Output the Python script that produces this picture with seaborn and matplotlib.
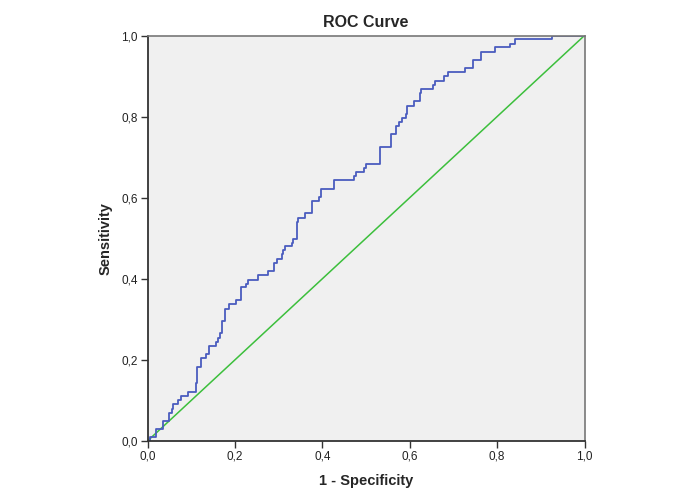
import matplotlib
matplotlib.use("Agg")
import matplotlib.pyplot as plt
import seaborn as sns
import pandas as pd
from matplotlib.ticker import FuncFormatter

# ROC step points: x where the curve steps up, new sensitivity level
fpr = [0.000, 0.006, 0.0195, 0.035, 0.050, 0.055, 0.059, 0.0705, 0.076, 0.093,
       0.111, 0.114, 0.122, 0.133, 0.141, 0.157, 0.162, 0.166, 0.170, 0.177,
       0.187, 0.2025, 0.213, 0.225, 0.231, 0.2535, 0.2765, 0.2895, 0.2956, 0.307,
       0.309, 0.3146, 0.330, 0.334, 0.341, 0.345, 0.360, 0.377, 0.393, 0.397,
       0.4275, 0.4725, 0.477, 0.495, 0.500, 0.532, 0.5565, 0.568, 0.5755, 0.582,
       0.591, 0.5946, 0.610, 0.624, 0.627, 0.654, 0.659, 0.6785, 0.687, 0.7265,
       0.7456, 0.7625, 0.795, 0.8295, 0.841, 0.925, 1.000]
tpr = [0.000, 0.011, 0.030, 0.050, 0.068, 0.080, 0.091, 0.101, 0.112, 0.121,
       0.142, 0.183, 0.204, 0.214, 0.234, 0.245, 0.254, 0.267, 0.296, 0.325,
       0.337, 0.347, 0.379, 0.388, 0.398, 0.409, 0.419, 0.438, 0.450, 0.461,
       0.472, 0.480, 0.488, 0.499, 0.540, 0.551, 0.563, 0.592, 0.602, 0.622,
       0.643, 0.653, 0.663, 0.674, 0.684, 0.725, 0.756, 0.776, 0.786, 0.797,
       0.807, 0.827, 0.838, 0.857, 0.868, 0.879, 0.889, 0.899, 0.909, 0.919,
       0.940, 0.960, 0.9705, 0.980, 0.991, 1.000, 1.000]
ref_x = [0.0, 1.0]
ref_y = [0.0, 1.0]
ticks = [0.0, 0.2, 0.4, 0.6, 0.8, 1.0]

sns.set_style("white")
plt.rcParams['font.family'] = ['Liberation Sans', 'DejaVu Sans']

fig = plt.figure(figsize=(6.73, 5.0), dpi=100)
ax = fig.add_axes([147.5/673, 1-441/500, (584.5-147.5)/673, (441-35.5)/500])
ax.set_facecolor('#f0f0f0')

roc = pd.DataFrame({'x': fpr, 'y': tpr})
ref = pd.DataFrame({'x': ref_x, 'y': ref_y})
sns.lineplot(data=ref, x='x', y='y', ax=ax, color='#3cbf3c', linewidth=1.1, sort=False)
sns.lineplot(data=roc, x='x', y='y', ax=ax, color='#4a5cbf', linewidth=1.3,
             drawstyle='steps-post', sort=False)

ax.set_xlim(0, 1)
ax.set_ylim(0, 1)
ax.set_xticks(ticks)
ax.set_yticks(ticks)
fmt = FuncFormatter(lambda v, p: f"{v:.1f}".replace('.', ','))
ax.xaxis.set_major_formatter(fmt)
ax.yaxis.set_major_formatter(fmt)
ax.tick_params(axis='both', direction='out', length=5, width=1, color='#333333',
               labelsize=8.5, labelcolor='#222222', pad=2, left=True, bottom=True)

for s in ['left', 'bottom']:
    ax.spines[s].set_color('#333333')
    ax.spines[s].set_linewidth(1.3)
for s in ['top', 'right']:
    ax.spines[s].set_color('#777777')
    ax.spines[s].set_linewidth(1.2)

ax.set_xlabel('1 - Specificity', fontsize=10.5, fontweight='bold', labelpad=8)
ax.set_ylabel('Sensitivity', fontsize=10.5, fontweight='bold', labelpad=6)
ax.set_title('ROC Curve', fontsize=11.5, fontweight='bold', pad=6)

fig.savefig('out.png', dpi=100, facecolor='white')
